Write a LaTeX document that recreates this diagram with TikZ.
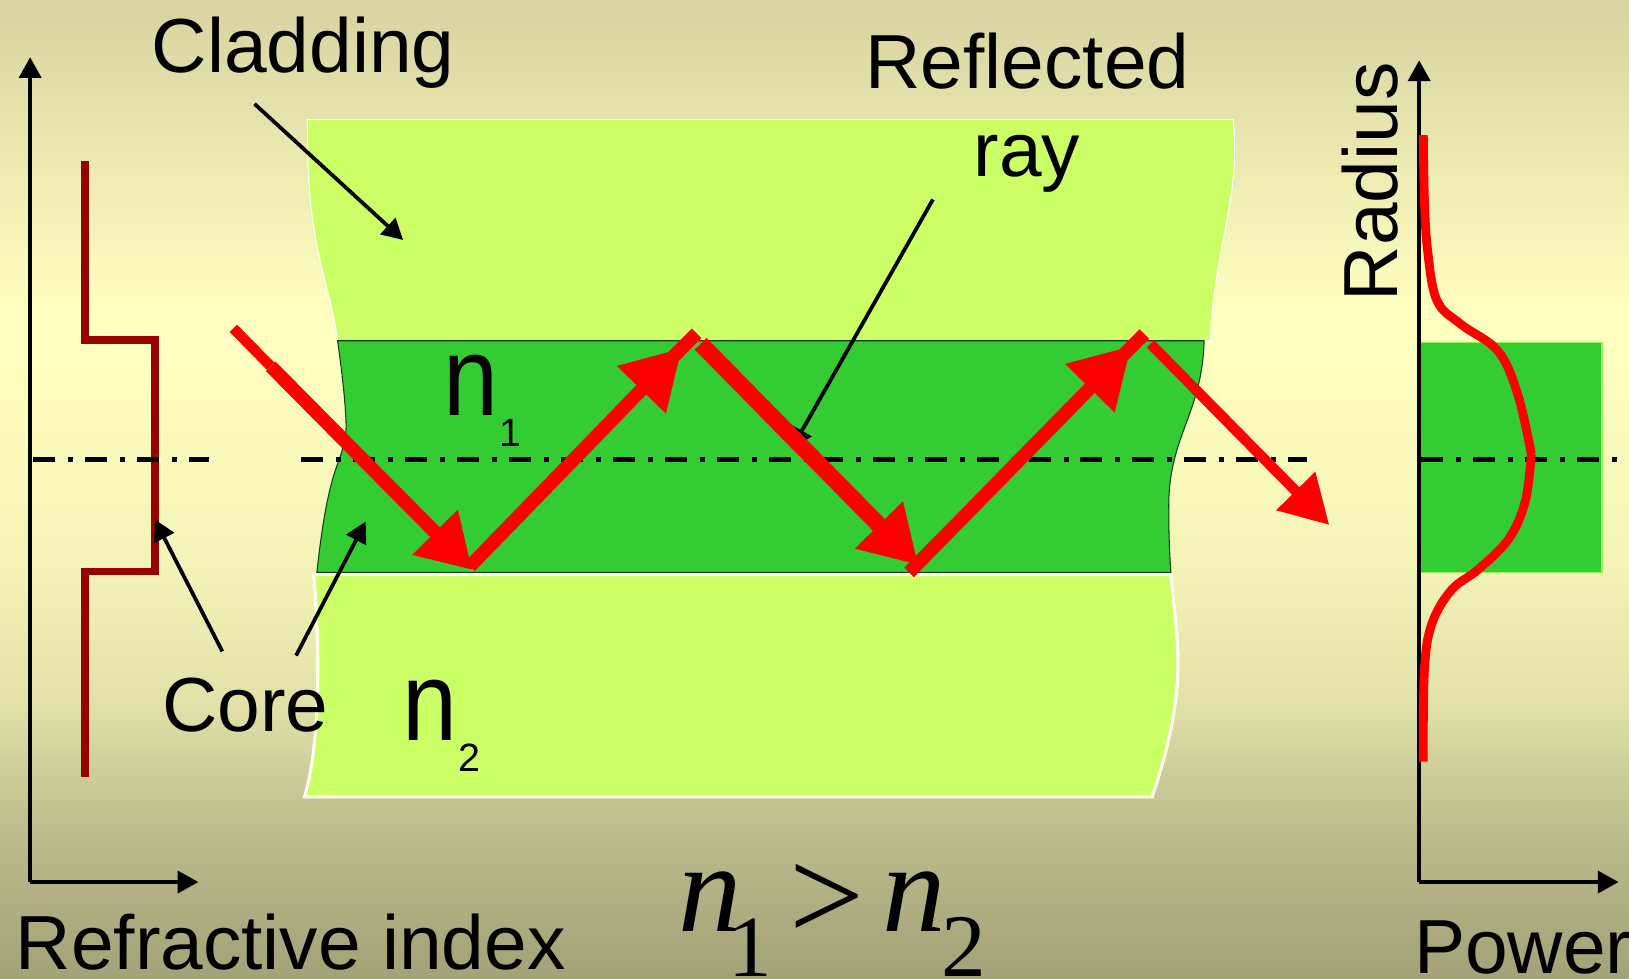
\documentclass[tikz,border=0pt]{standalone}
\usepackage{fontspec}
\setmainfont{Liberation Sans}
\newfontfamily\timesfont{Liberation Serif}
\usetikzlibrary{arrows.meta}
\definecolor{bgTop}{RGB}{214, 211, 160}
\definecolor{bgMid}{RGB}{255, 255, 192}
\definecolor{bgBot}{RGB}{163, 162, 120}
\definecolor{cladGreen}{RGB}{204, 255, 102}
\definecolor{coreGreen}{RGB}{51, 204, 51}
\definecolor{stepRed}{RGB}{153, 0, 0}
\pgfdeclareverticalshading{bgShade}{100bp}{color(0bp)=(bgBot); color(25bp)=(bgBot); color(32bp)=(bgMid!25!bgBot); color(39bp)=(bgMid!67!bgBot); color(46bp)=(bgMid!87!bgBot); color(57bp)=(bgMid); color(59bp)=(bgMid); color(75bp)=(bgTop); color(100bp)=(bgTop)}
\tikzset{
  word/.style={inner sep=0pt, anchor=base west, font=\fontsize{73.8}{80}\selectfont},
  indexword/.style={inner sep=0pt, anchor=base west, font=\fontsize{108}{110}\selectfont},
  subword/.style={inner sep=0pt, anchor=base west, font=\fontsize{38}{40}\selectfont},
  axisline/.style={black, line width=4pt, -{Triangle[length=20pt,width=21pt]}},
  pointer/.style={black, line width=3.6pt, -{Triangle[length=20pt,width=21pt]}},
  rayline/.style={red, line width=13pt},
  centreline/.style={black, line width=4.8pt, dash pattern=on 21.2pt off 12.5pt on 4.8pt off 11.5pt},
}
\begin{document}
\begin{tikzpicture}[x=1pt, y=-1pt]
  \useasboundingbox (0,0) rectangle (1568,942);
  % Background
  \shade[shading=bgShade] (0,0) rectangle (1568,942);
  % Cladding above and below
  \filldraw[cladGreen, draw=white, line width=1pt] (296,115) -- (1187,115)
    .. controls (1195,190) and (1168,240) .. (1165,328) -- (325,328)
    .. controls (318,270) and (294,240) .. (296,115) -- cycle;
  \filldraw[cladGreen, draw=white!80!bgMid, line width=3pt] (302,553) -- (1127,553)
    .. controls (1133,620) and (1145,660) .. (1109,767) -- (293,767)
    .. controls (305,730) and (310,650) .. (302,553) -- cycle;
  % Core
  \filldraw[coreGreen, draw=black!70!coreGreen, line width=1pt] (325,328) -- (1159,328)
    .. controls (1157,400) and (1124,420) .. (1125,490)
    .. controls (1125,520) and (1126,535) .. (1127,551) -- (305,551)
    .. controls (310,505) and (315,478) .. (322,455)
    .. controls (328,437) and (334,425) .. (333,405)
    .. controls (332,380) and (328,350) .. (325,328) -- cycle;
  \filldraw[coreGreen, draw=cladGreen!70!coreGreen, line width=1pt] (1366,329.5) rectangle (1542,551);
  % Axes
  \coordinate (leftO) at (29,849);
  \coordinate (leftY) at (29,55);
  \coordinate (leftX) at (191,849);
  \coordinate (rightO) at (1366,849);
  \coordinate (rightY) at (1366,58);
  \coordinate (rightX) at (1558,849);
  \draw[axisline] (leftO) -- (leftY);
  \draw[axisline] (leftO) -- (leftX);
  \draw[axisline] (rightO) -- (rightY);
  \draw[axisline] (rightO) -- (rightX);
  % Index profile
  \draw[stepRed, line width=7.5pt, line join=miter] (82,155) -- (82,327) -- (149,327) -- (149,550) -- (82,550) -- (82,748);
  % Centre lines
  \coordinate (cA) at (32,442);
  \coordinate (cB) at (201,442);
  \coordinate (cC) at (290,442);
  \coordinate (cD) at (1258,442);
  \coordinate (cE) at (1368,442);
  \coordinate (cF) at (1560,442);
  \draw[centreline] (cA) -- (cB);
  \draw[centreline] (cC) -- (cD);
  \draw[centreline] (cE) -- (cF);
  % Power curve
  \draw[red, line width=8.5pt] plot[smooth, tension=0.6] coordinates {(1370,130) (1371,190) (1374,240) (1383,289) (1406,312) (1442,338) (1461,380) (1474,437)};
  \draw[red, line width=8.5pt] plot[smooth, tension=0.6] coordinates {(1474,437) (1468,483) (1452,519) (1423,548) (1397,568) (1378,601) (1371,646) (1370,733)};
  % Labels
  \node[word] (cladding) at (146,70) {Cladding};
  \node[word] (reflected) at (833,85) {Reflected};
  \node[word] (rayword) at (937,170) {ray};
  \node[word] (core) at (156,704) {Core};
  \node[word] (refindex) at (15,933) {Refractive index};
  \node[word] (power) at (1361,937) {Power};
  \node[word, rotate=90] (radius) at (1345,290) {Radius};
  \node[indexword] (nOne) at (427,400) {\scalebox{.88}[1]{n}};
  \node[subword] (nOneSub) at (481,430) {1};
  \node[indexword] (nTwo) at (387,713) {\scalebox{.88}[1]{n}};
  \node[subword] (nTwoSub) at (441,743) {2};
  \node[inner sep=0pt, anchor=base west, font=\timesfont\fontsize{122}{124}\selectfont] (ineq) at (653,897)
    {\textit{n}\kern-13pt\raisebox{-43pt}{\fontsize{84}{90}\selectfont 1}\kern 17pt\raisebox{-8pt}{\fontsize{128}{130}\selectfont >}\kern 17pt\textit{n}\kern-4pt\raisebox{-43pt}{\fontsize{86}{90}\selectfont 2}};
  % Pointers
  \coordinate (cladFrom) at (245,100);
  \coordinate (cladTo) at (388,231);
  \coordinate (rayFrom) at (898,192);
  \coordinate (rayTo) at (762,432);
  \coordinate (coreFromA) at (214,627);
  \coordinate (coreToA) at (149,500);
  \coordinate (coreFromB) at (285,631);
  \coordinate (coreToB) at (352,502);
  \draw[pointer] (cladFrom) -- (cladTo);
  \draw[pointer] (rayFrom) -- (rayTo);
  \draw[pointer] (coreFromA) -- (coreToA);
  \draw[pointer] (coreFromB) -- (coreToB);
  % Zigzag ray
  \coordinate (start) at (224.6,316);
  \coordinate (startB) at (260.5,352.5);
  \coordinate (hitA) at (454.6,548.6);
  \coordinate (fromA) at (452.4,545);
  \coordinate (tipB) at (656.4,335);
  \coordinate (stubB) at (640,351.5);
  \coordinate (hitB) at (670.5,320.8);
  \coordinate (fromB) at (674.4,331);
  \coordinate (hitC) at (883.9,543.8);
  \coordinate (fromC) at (875,551);
  \coordinate (tipD) at (1089,333);
  \coordinate (stubD) at (1072,351);
  \coordinate (hitD) at (1101.5,321.5);
  \coordinate (fromD) at (1107.4,331);
  \coordinate (finish) at (1279.5,505.3);
  \draw[rayline, line width=10pt] (start) -- (startB);
  \draw[rayline, -{Triangle[length=51pt,width=58pt]}] (startB) -- (hitA);
  \draw[rayline, -{Triangle[length=56pt,width=62pt]}] (fromA) -- (tipB);
  \draw[rayline] (stubB) -- (hitB);
  \draw[rayline, line width=16pt, -{Triangle[length=54pt,width=61pt]}] (fromB) -- (hitC);
  \draw[rayline, -{Triangle[length=57pt,width=63pt]}] (fromC) -- (tipD);
  \draw[rayline] (stubD) -- (hitD);
  \draw[rayline, line width=10pt, -{Triangle[length=46pt,width=50pt]}] (fromD) -- (finish);
\end{tikzpicture}
\end{document}
